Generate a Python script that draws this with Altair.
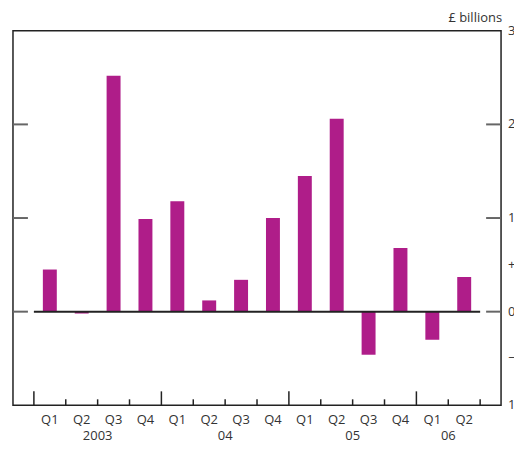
import altair as alt
import pandas as pd

quarters = ["Q1", "Q2", "Q3", "Q4", "Q1", "Q2", "Q3", "Q4",
            "Q1", "Q2", "Q3", "Q4", "Q1", "Q2"]
values = [0.45, -0.02, 2.52, 0.99, 1.18, 0.12, 0.34, 1.00,
          1.45, 2.06, -0.46, 0.68, -0.30, 0.37]
years = ["2003", "04", "05", "06"]
year_centres = [2, 6, 10, 13]
major_ticks = [0, 4, 8, 12]
minor_ticks = [1, 2, 3, 5, 6, 7, 9, 10, 11, 13, 14]
side_ticks = [2, 1, 0]
right_label_values = [3, 2, 1, 0.5, 0, -0.5, -1]
right_label_texts = ["3", "2", "1", "+", "0", "\u2212", "1"]

W, H = 490, 376
FONT = "Open Sans"
BAR = "#AF1D89"

bars_df = pd.DataFrame({"pos": [i + 0.5 for i in range(len(values))],
                        "q": quarters, "v": values})
years_df = pd.DataFrame({"pos": year_centres, "year": years})
major_df = pd.DataFrame({"pos": major_ticks})
minor_df = pd.DataFrame({"pos": minor_ticks})
side_df = pd.DataFrame({"v": side_ticks})
zero_df = pd.DataFrame({"a": [0], "b": [14], "v": [0]})
rl_df = pd.DataFrame({"v": right_label_values, "t": right_label_texts})

xs = alt.Scale(domain=[-0.656, 14.656], nice=False, zero=False, padding=0)
ys = alt.Scale(domain=[-1, 3], nice=False, zero=False, padding=0)

bars = alt.Chart(bars_df).mark_bar(color=BAR, size=14).encode(
    x=alt.X("pos:Q", scale=xs, axis=None),
    y=alt.Y("v:Q", scale=ys, axis=None),
    y2=alt.datum(0),
)

zero = alt.Chart(zero_df).mark_rule(color="#222222", strokeWidth=2).encode(
    x=alt.X("a:Q", scale=xs, axis=None), x2="b:Q",
    y=alt.Y("v:Q", scale=ys, axis=None),
)

left_ticks = alt.Chart(side_df).mark_rule(color="#666666", strokeWidth=2).encode(
    y=alt.Y("v:Q", scale=ys, axis=None), x=alt.value(0), x2=alt.value(15),
)
right_ticks = alt.Chart(side_df).mark_rule(color="#666666", strokeWidth=2).encode(
    y=alt.Y("v:Q", scale=ys, axis=None), x=alt.value(W - 15), x2=alt.value(W),
)

maj = alt.Chart(major_df).mark_rule(color="#222222", strokeWidth=1.5).encode(
    x=alt.X("pos:Q", scale=xs, axis=None), y=alt.value(H), y2=alt.value(H - 14),
)
mnr = alt.Chart(minor_df).mark_rule(color="#222222", strokeWidth=1.5).encode(
    x=alt.X("pos:Q", scale=xs, axis=None), y=alt.value(H), y2=alt.value(H - 6),
)

qlabels = alt.Chart(bars_df).mark_text(font=FONT, fontSize=13, color="#333333",
                                       baseline="middle").encode(
    x=alt.X("pos:Q", scale=xs, axis=None), y=alt.value(H + 15), text="q:N",
)
ylabels = alt.Chart(years_df).mark_text(font=FONT, fontSize=13, color="#333333",
                                        baseline="middle").encode(
    x=alt.X("pos:Q", scale=xs, axis=None), y=alt.value(H + 31), text="year:N",
)
rlabels = alt.Chart(rl_df).mark_text(font=FONT, fontSize=13, color="#333333",
                                     align="left", baseline="middle").encode(
    y=alt.Y("v:Q", scale=ys, axis=None), x=alt.value(W + 7), text="t:N",
)
unit = alt.Chart(zero_df).mark_text(font=FONT, fontSize=13, color="#333333",
                                    align="right", baseline="middle").encode(
    x=alt.value(W + 1), y=alt.value(-13), text=alt.value("\u00a3 billions"),
)

chart = alt.layer(bars, zero, left_ticks, right_ticks, maj, mnr,
                  qlabels, ylabels, rlabels, unit).properties(
    width=W, height=H,
    autosize=alt.AutoSizeParams(type="none"),
    padding={"left": 5, "top": 22, "right": 13, "bottom": 38},
).configure_view(stroke="#222222", strokeWidth=1.5)

chart.save("out.html", embed_options={"renderer": "svg", "actions": False})
